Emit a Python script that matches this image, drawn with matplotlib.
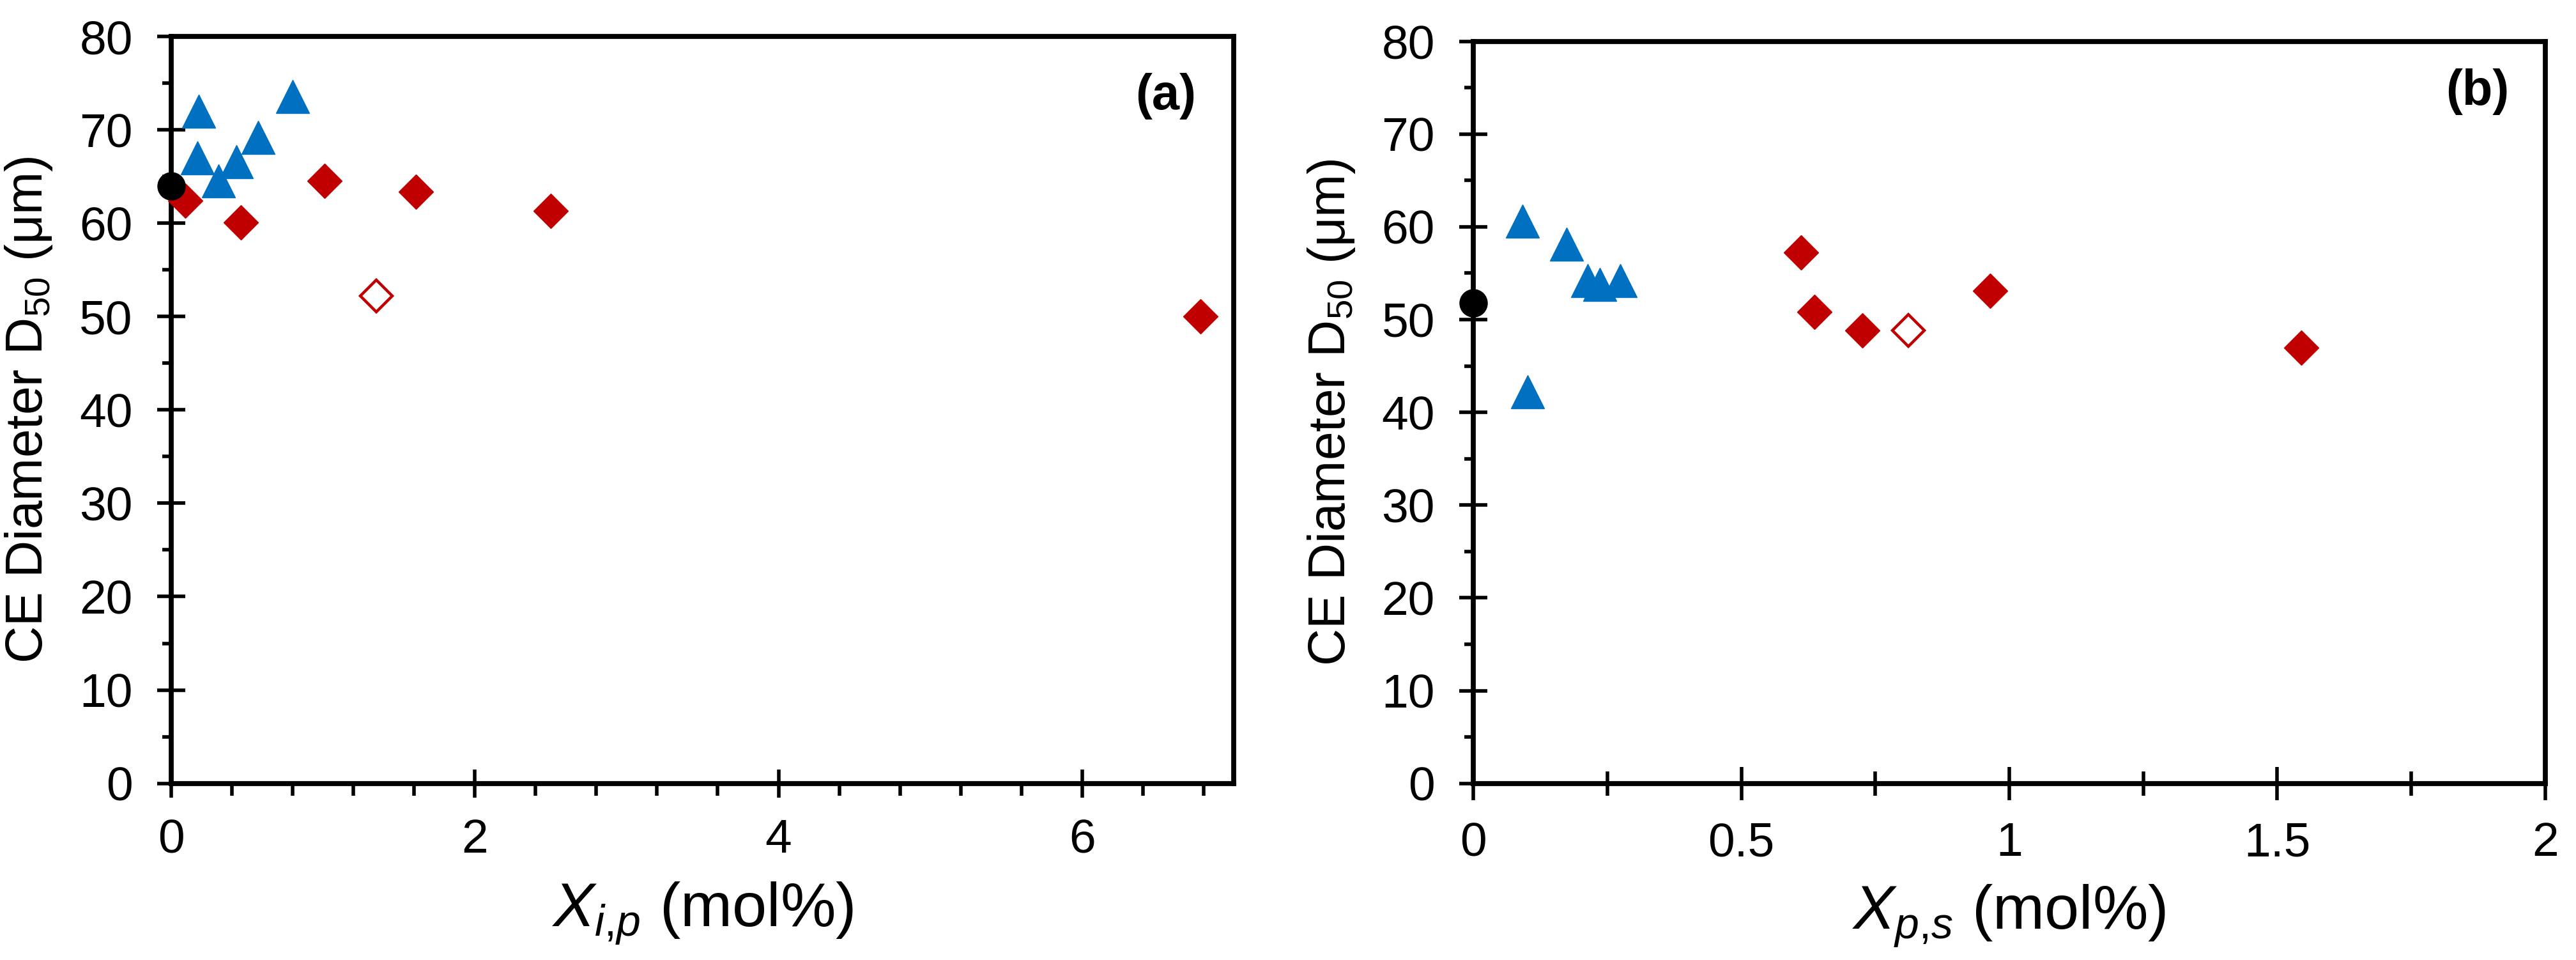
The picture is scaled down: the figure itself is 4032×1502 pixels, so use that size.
import matplotlib
matplotlib.use('Agg')
import matplotlib.pyplot as plt
from matplotlib.ticker import MultipleLocator

plt.rcParams['font.family'] = ['Liberation Sans', 'DejaVu Sans']
plt.rcParams['mathtext.fontset'] = 'custom'
plt.rcParams['mathtext.rm'] = 'Liberation Sans'
plt.rcParams['mathtext.it'] = 'Liberation Sans:italic'

# panel (a): X_i,p
a_base_x = [0.0]
a_base_y = [64.0]
a_tri_x = [0.18, 0.17, 0.31, 0.43, 0.57, 0.80]
a_tri_y = [72.0, 67.0, 64.5, 66.6, 69.2, 73.6]
a_dia_x = [0.09, 0.46, 1.01, 1.61, 2.50, 6.78]
a_dia_y = [62.4, 60.1, 64.5, 63.4, 61.3, 50.0]
a_open_x = [1.35]
a_open_y = [52.2]

# panel (b): X_p,s
b_base_x = [0.0]
b_base_y = [51.8]
b_tri_x = [0.092, 0.174, 0.213, 0.236, 0.274, 0.101]
b_tri_y = [60.6, 58.1, 54.2, 53.8, 54.2, 42.2]
b_dia_x = [0.611, 0.636, 0.726, 0.964, 1.545]
b_dia_y = [57.2, 50.8, 48.8, 53.1, 47.0]
b_open_x = [0.812]
b_open_y = [48.8]

blue = '#0070C0'
red = '#C00000'

fig = plt.figure(figsize=(20.16, 7.51), dpi=200)
ax1 = fig.add_axes([0.0665, 0.184, 0.4125, 0.778])
ax2 = fig.add_axes([0.572, 0.184, 0.416, 0.773])


def draw(ax, bx, by, tx, ty, dx, dy, ox, oy):
    ax.plot(tx, ty, ls='none', marker='^', ms=19, color=blue, mec=blue, mew=0.5,
            zorder=3, clip_on=False)
    ax.plot(dx, dy, ls='none', marker='D', ms=13.5, color=red, mec=red, mew=0.5,
            zorder=3, clip_on=False)
    ax.plot(ox, oy, ls='none', marker='D', ms=12.5, mfc='white', mec=red, mew=1.6,
            zorder=3, clip_on=False)
    ax.plot(bx, by, ls='none', marker='o', ms=15, color='black', zorder=4, clip_on=False)
    ax.set_ylim(0, 80)
    ax.yaxis.set_major_locator(MultipleLocator(10))
    ax.yaxis.set_minor_locator(MultipleLocator(5))
    for s in ax.spines.values():
        s.set_linewidth(2.8)
    ax.tick_params(which='major', direction='inout', length=15.5, width=2, labelsize=27)
    ax.tick_params(which='minor', direction='out', length=5, width=2)
    ax.tick_params(axis='y', which='major', pad=14)
    ax.tick_params(axis='x', which='major', pad=12)
    ax.set_ylabel('CE Diameter D$_{50}$ (μm)', fontsize=29, labelpad=14)


draw(ax1, a_base_x, a_base_y, a_tri_x, a_tri_y, a_dia_x, a_dia_y, a_open_x, a_open_y)
ax1.set_xlim(0, 7)
ax1.xaxis.set_major_locator(MultipleLocator(2))
ax1.xaxis.set_minor_locator(MultipleLocator(0.4))
ax1.tick_params(axis='x', which='minor', direction='out', length=7)
ax1.set_xlabel(r'$X_{i{,}p}$ (mol%)', fontsize=35, labelpad=10)
ax1.text(0.936, 0.92, '(a)', transform=ax1.transAxes, ha='center', va='center',
         fontsize=28, fontweight='bold')

draw(ax2, b_base_x, b_base_y, b_tri_x, b_tri_y, b_dia_x, b_dia_y, b_open_x, b_open_y)
ax2.set_xlim(0, 2)
ax2.xaxis.set_major_locator(MultipleLocator(0.5))
ax2.xaxis.set_minor_locator(MultipleLocator(0.25))
ax2.xaxis.set_major_formatter(plt.FuncFormatter(lambda v, p: f'{v:g}'))
ax2.tick_params(axis='x', which='major', length=19)
ax2.tick_params(axis='x', which='minor', direction='inout', length=14)
ax2.set_xlabel(r'$X_{p{,}s}$ (mol%)', fontsize=35, labelpad=10)
ax2.text(0.937, 0.932, '(b)', transform=ax2.transAxes, ha='center', va='center',
         fontsize=28, fontweight='bold')

fig.savefig('out.png', dpi=200)
